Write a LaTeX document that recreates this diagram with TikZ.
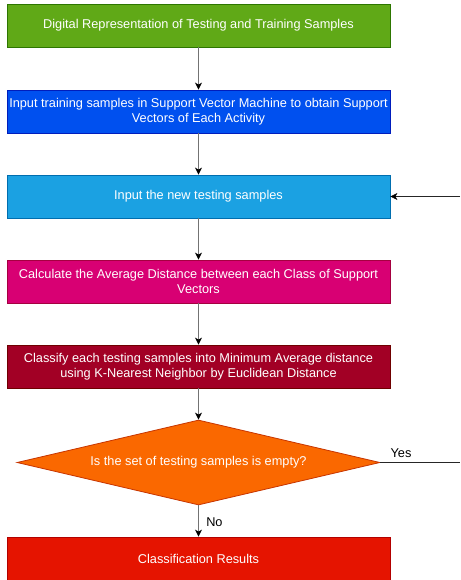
\documentclass[tikz,border=0pt]{standalone}
\usepackage{fontspec}
\setmainfont{Liberation Sans}
\usetikzlibrary{arrows.meta,shapes.geometric}
\definecolor{cgreen}{HTML}{60A917}\definecolor{dgreen}{HTML}{2D7600}
\definecolor{cblue}{HTML}{0050EF}\definecolor{dblue}{HTML}{001DBC}
\definecolor{clblue}{HTML}{1BA1E2}\definecolor{dlblue}{HTML}{006EAF}
\definecolor{cmag}{HTML}{D80073}\definecolor{dmag}{HTML}{A50040}
\definecolor{ccrim}{HTML}{A20025}\definecolor{dcrim}{HTML}{6F0000}
\definecolor{corange}{HTML}{FA6800}\definecolor{dorange}{HTML}{C73500}
\definecolor{cred}{HTML}{E51400}\definecolor{dred}{HTML}{B20000}
\begin{document}
\begin{tikzpicture}[x=1pt,y=-1pt,
  stepbox/.style={draw, line width=0.8pt, minimum width=383pt, minimum height=43pt, inner sep=0pt,
     text=white, align=center, font=\fontsize{12.75}{15}\selectfont},
  flow/.style={draw=black!55, line width=0.9pt, -{Stealth[length=7pt,width=7pt,inset=2pt,black]}},
  back/.style={draw=black!85, line width=0.6pt},
  lbl/.style={font=\fontsize{12.75}{15}\selectfont, text=black}]
\useasboundingbox (0,0) rectangle (460,580);
\node[stepbox, fill=cgreen, draw=dgreen] (b1) at (198.5,25.5) {Digital Representation of Testing and Training Samples};
\node[stepbox, fill=cblue, draw=dblue] (b2) at (198.5,111.5) {Input training samples in Support Vector Machine to obtain Support\\Vectors of Each Activity};
\node[stepbox, fill=clblue, draw=dlblue] (b3) at (198.5,196.5) {Input the new testing samples};
\node[stepbox, fill=cmag, draw=dmag] (b4) at (198.5,281.5) {Calculate the Average Distance between each Class of Support\\Vectors};
\node[stepbox, fill=ccrim, draw=dcrim] (b5) at (198.5,366.5) {Classify each testing samples into Minimum Average distance\\using K-Nearest Neighbor by Euclidean Distance};
\node[diamond, draw=dorange, fill=corange, line width=0.8pt, minimum width=363pt, minimum height=85pt, inner sep=0pt, aspect=4.27,
  text=white, font=\fontsize{12.75}{15}\selectfont] (d) at (198.5,462.5) {Is the set of testing samples is empty?};
\node[stepbox, fill=cred, draw=dred, minimum height=44pt] (b6) at (198.5,559) {Classification Results};
\coordinate (e1) at (460,462.5);
\coordinate (e2) at (460,196.5);
\draw[flow] (b1) -- (b2);
\draw[flow] (b2) -- (b3);
\draw[flow] (b3) -- (b4);
\draw[flow] (b4) -- (b5);
\draw[flow] (b5) -- (d.north);
\draw[flow] (d.south) -- node[lbl, right, xshift=4pt, yshift=-1pt] (no) {No} (b6);
\draw[back] (d.east) -- (e1);
\node[lbl] (yes) at (401,453) {Yes};
\draw[back, -{Stealth[length=7pt,width=7pt,inset=2pt,black]}] (e2) -- (b3.east);
\end{tikzpicture}
\end{document}
